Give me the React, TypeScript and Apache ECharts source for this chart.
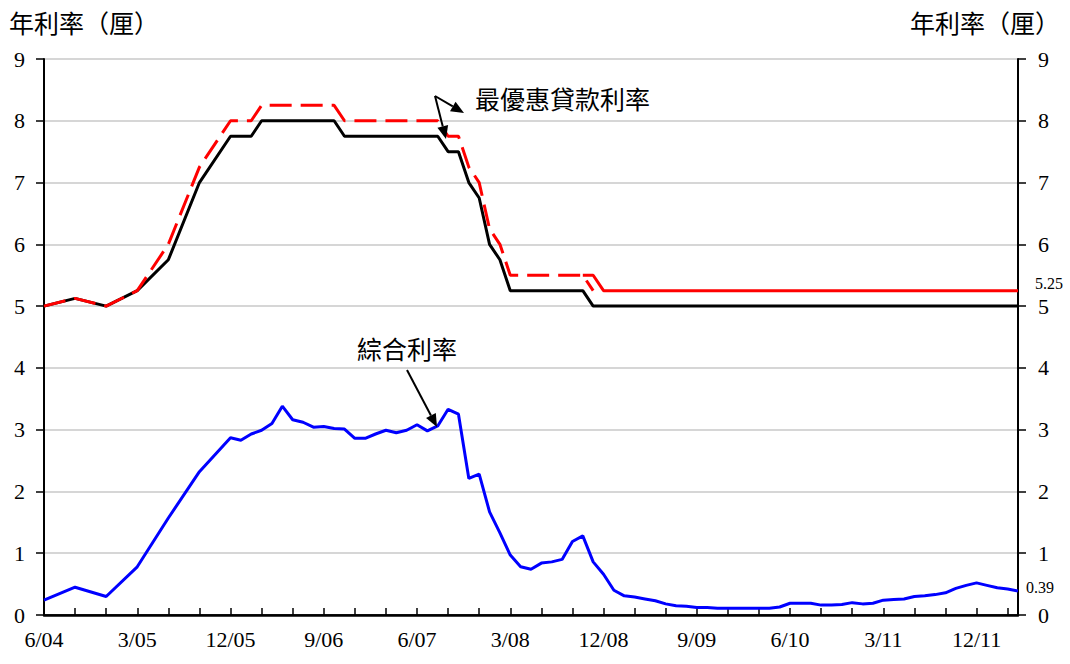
import React, { useEffect, useRef } from "react";
import * as echarts from "echarts";

// Monthly categories 6/04 .. 4/12
const START_YEAR = 2004;
const START_MONTH = 6;
const MONTH_COUNT = 95;
const categories: string[] = [];
for (let k = 0; k < MONTH_COUNT; k++) {
  const t = START_MONTH - 1 + k;
  const m = (t % 12) + 1;
  const y = START_YEAR + Math.floor(t / 12);
  categories.push(`${m}/${String(y % 100).padStart(2, "0")}`);
}

const yMin = 0;
const yMax = 9;
const yInterval = 1;

// 綜合利率 (composite rate)
const compositeRate = [
  0.24, null, null, 0.45, null, null, 0.30, null, null, 0.78,
  null, null, 1.57, null, null, 2.32, null, null, 2.87, 2.83,
  2.93, 2.99, 3.10, 3.38, 3.16, 3.12, 3.04, 3.05, 3.02, 3.01,
  2.86, 2.86, 2.93, 2.99, 2.95, 2.99, 3.08, 2.98, 3.06, 3.33,
  3.25, 2.21, 2.28, 1.67, 1.33, 0.97, 0.78, 0.74, 0.84, 0.86,
  0.90, 1.19, 1.28, 0.86, 0.66, 0.40, 0.31, 0.29, 0.26, 0.23,
  0.18, 0.15, 0.14, 0.12, 0.12, 0.11, 0.11, 0.11, 0.11, 0.11,
  0.11, 0.13, 0.19, 0.19, 0.19, 0.16, 0.16, 0.17, 0.20, 0.18,
  0.19, 0.24, 0.25, 0.26, 0.30, 0.31, 0.33, 0.36, 0.43, 0.48,
  0.52, 0.48, 0.44, 0.42, 0.39,
];

// 最優惠貸款利率 (lower, black)
const primeLow = [
  5.0, null, null, 5.125, null, null, 5.0, null, null, 5.25,
  null, null, 5.75, null, null, 7.0, null, null, 7.75, 7.75,
  7.75, 8.0, 8.0, 8.0, 8.0, 8.0, 8.0, 8.0, 8.0, 7.75,
  7.75, 7.75, 7.75, 7.75, 7.75, 7.75, 7.75, 7.75, 7.75, 7.5,
  7.5, 7.0, 6.75, 6.0, 5.75, 5.25, 5.25, 5.25, 5.25, 5.25,
  5.25, 5.25, 5.25, 5.0, 5.0, 5.0, 5.0, 5.0, 5.0, 5.0,
  5.0, 5.0, 5.0, 5.0, 5.0, 5.0, 5.0, 5.0, 5.0, 5.0,
  5.0, 5.0, 5.0, 5.0, 5.0, 5.0, 5.0, 5.0, 5.0, 5.0,
  5.0, 5.0, 5.0, 5.0, 5.0, 5.0, 5.0, 5.0, 5.0, 5.0,
  5.0, 5.0, 5.0, 5.0, 5.0,
];

// 最優惠貸款利率 (higher, red dashed part)
const primeHighDashed = [
  5.0, null, null, 5.125, null, null, 5.0, null, null, 5.25,
  null, null, 6.0, null, null, 7.25, null, null, 8.0, 8.0,
  8.0, 8.25, 8.25, 8.25, 8.25, 8.25, 8.25, 8.25, 8.25, 8.0,
  8.0, 8.0, 8.0, 8.0, 8.0, 8.0, 8.0, 8.0, 8.0, 7.75,
  7.75, 7.25, 7.0, 6.25, 6.0, 5.5, 5.5, 5.5, 5.5, 5.5,
  5.5, 5.5, 5.5, 5.25, null, null, null, null, null, null,
  null, null, null, null, null, null, null, null, null, null,
  null, null, null, null, null, null, null, null, null, null,
  null, null, null, null, null, null, null, null, null, null,
  null, null, null, null, null,
];

// 最優惠貸款利率 (higher, red solid part)
const primeHighSolid = [
  null, null, null, null, null, null, null, null, null, null,
  null, null, null, null, null, null, null, null, null, null,
  null, null, null, null, null, null, null, null, null, null,
  null, null, null, null, null, null, null, null, null, null,
  null, null, null, null, null, null, null, null, null, null,
  null, null, 5.5, 5.5, 5.25, 5.25, 5.25, 5.25, 5.25, 5.25,
  5.25, 5.25, 5.25, 5.25, 5.25, 5.25, 5.25, 5.25, 5.25, 5.25,
  5.25, 5.25, 5.25, 5.25, 5.25, 5.25, 5.25, 5.25, 5.25, 5.25,
  5.25, 5.25, 5.25, 5.25, 5.25, 5.25, 5.25, 5.25, 5.25, 5.25,
  5.25, 5.25, 5.25, 5.25, 5.25,
];

const SERIF = "Liberation Serif";
const CJK = "Noto Sans CJK TC";

function arrow(x1: number, y1: number, x2: number, y2: number) {
  const dx = x2 - x1;
  const dy = y2 - y1;
  const len = Math.sqrt(dx * dx + dy * dy);
  const ux = dx / len;
  const uy = dy / len;
  const hl = 13;
  const hw = 5.5;
  const bx = x2 - ux * hl;
  const by = y2 - uy * hl;
  return [
    {
      type: "line",
      shape: { x1, y1, x2: bx, y2: by },
      style: { stroke: "#000", lineWidth: 2 },
      z: 100,
    },
    {
      type: "polygon",
      shape: {
        points: [
          [x2, y2],
          [bx - uy * hw, by + ux * hw],
          [bx + uy * hw, by - ux * hw],
        ],
      },
      style: { fill: "#000" },
      z: 100,
    },
  ];
}

export default function App() {
  const ref = useRef<HTMLDivElement>(null);

  useEffect(() => {
    if (!ref.current) return;
    const chart = echarts.init(ref.current, null, { renderer: "svg" });

    const yTick = { show: true, inside: false, length: 8, lineStyle: { color: "#000", width: 1.5 } };
    const yLine = { show: true, lineStyle: { color: "#000", width: 2 } };

    const option = {
      animation: false,
      backgroundColor: "#fff",
      textStyle: { fontFamily: SERIF },
      grid: { left: 44, right: 52, top: 59, bottom: 49, containLabel: false },
      xAxis: [
        {
          type: "category",
          data: categories,
          boundaryGap: false,
          position: "bottom",
          axisLine: { show: true, lineStyle: { color: "#000", width: 2.5 } },
          axisTick: {
            show: true,
            inside: true,
            length: 7,
            interval: 2,
            lineStyle: { color: "#000", width: 1.5 },
          },
          axisLabel: {
            show: true,
            interval: 8,
            color: "#000",
            fontFamily: SERIF,
            fontSize: 22,
            margin: 13,
          },
          splitLine: { show: false },
        },
        {
          type: "category",
          data: categories,
          boundaryGap: false,
          position: "top",
          axisLine: { show: true, lineStyle: { color: "#000", width: 1.5 } },
          axisTick: { show: false },
          axisLabel: { show: false },
          splitLine: { show: false },
        },
      ],
      yAxis: [
        {
          type: "value",
          min: yMin,
          max: yMax,
          interval: yInterval,
          position: "left",
          axisLine: yLine,
          axisTick: yTick,
          axisLabel: { color: "#000", fontFamily: SERIF, fontSize: 22, margin: 19 },
          splitLine: { show: true, lineStyle: { color: "#c8c8c8", width: 1.5 } },
        },
        {
          type: "value",
          min: yMin,
          max: yMax,
          interval: yInterval,
          position: "right",
          axisLine: yLine,
          axisTick: yTick,
          axisLabel: { color: "#000", fontFamily: SERIF, fontSize: 22, margin: 20 },
          splitLine: { show: false },
        },
      ],
      series: [
        {
          name: "綜合利率",
          type: "line",
          data: compositeRate,
          connectNulls: true,
          symbol: "none",
          lineStyle: { color: "#0000ff", width: 3 },
          z: 3,
        },
        {
          name: "最優惠貸款利率（低）",
          type: "line",
          data: primeLow,
          connectNulls: true,
          symbol: "none",
          lineStyle: { color: "#000", width: 3 },
          z: 4,
        },
        {
          name: "最優惠貸款利率（高）",
          type: "line",
          data: primeHighDashed,
          connectNulls: true,
          symbol: "none",
          lineStyle: { color: "#ff0000", width: 3, type: [22, 9] },
          z: 5,
        },
        {
          name: "最優惠貸款利率（高）實線",
          type: "line",
          data: primeHighSolid,
          connectNulls: true,
          symbol: "none",
          lineStyle: { color: "#ff0000", width: 3 },
          z: 5,
        },
      ],
      graphic: [
        {
          type: "text",
          left: 9,
          top: 9,
          style: { text: "年利率（厘）", fontFamily: CJK, fontSize: 25, fill: "#000" },
        },
        {
          type: "text",
          right: 10,
          top: 9,
          style: { text: "年利率（厘）", fontFamily: CJK, fontSize: 25, fill: "#000" },
        },
        {
          type: "text",
          left: 475,
          top: 85,
          style: { text: "最優惠貸款利率", fontFamily: CJK, fontSize: 25, fill: "#000" },
        },
        {
          type: "text",
          left: 357,
          top: 335,
          style: { text: "綜合利率", fontFamily: CJK, fontSize: 25, fill: "#000" },
        },
        {
          type: "text",
          left: 1035,
          top: 275,
          style: { text: "5.25", fontFamily: SERIF, fontSize: 16, fill: "#000" },
        },
        {
          type: "text",
          left: 1026,
          top: 579,
          style: { text: "0.39", fontFamily: SERIF, fontSize: 16, fill: "#000" },
        },
        ...arrow(435, 96, 464, 113),
        ...arrow(435, 96, 446, 139),
        ...arrow(407, 370, 437, 427),
      ],
    };

    chart.setOption(option as any);
    return () => chart.dispose();
  }, []);

  return (
    <div
      ref={ref}
      style={{ position: "fixed", left: 0, top: 0, width: 1070, height: 664, background: "#fff" }}
    />
  );
}
